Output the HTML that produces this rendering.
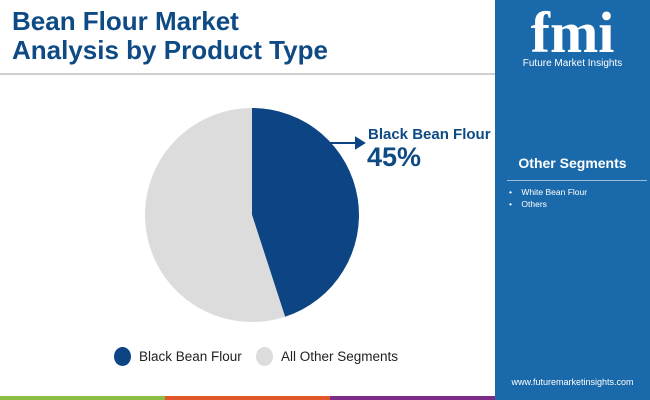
<!DOCTYPE html>
<html><head><meta charset="utf-8"><style>
body{margin:0;width:650px;height:400px;position:relative;overflow:hidden;background:#fff;font-family:"Liberation Sans",sans-serif}
.abs{position:absolute}
</style></head><body>
<div class="abs" style="left:12px;top:7px;font-size:26px;font-weight:bold;color:#0e4a84;line-height:29px">Bean Flour Market<br>Analysis by Product Type</div>
<div class="abs" style="left:0;top:73px;width:495px;height:2px;background:#d0d0d0"></div>
<div class="abs" style="left:495px;top:0;width:155px;height:400px;background:#1a6aab">
  <div class="abs" style="left:0;top:4px;width:155px;text-align:center;color:#fff;font-size:58px;font-weight:bold;line-height:58px;font-family:'Liberation Serif',serif">fmi</div>
  <div class="abs" style="left:0;top:58px;width:155px;text-align:center;color:#fff;font-size:10px">Future Market Insights</div>
  <div class="abs" style="left:0;top:155px;width:155px;text-align:center;color:#fff;font-size:14px;font-weight:bold">Other Segments</div>
  <div class="abs" style="left:12px;top:180px;width:140px;height:1px;background:#9bbcdc"></div>
  <div class="abs" style="left:14px;top:186px;color:#fff;font-size:8.5px;line-height:12px">•&nbsp;&nbsp;&nbsp;&nbsp;White Bean Flour<br>•&nbsp;&nbsp;&nbsp;&nbsp;Others</div>
  <div class="abs" style="left:0;top:377px;width:155px;text-align:center;color:#fff;font-size:9px">www.futuremarketinsights.com</div>
</div>
<div class="abs" style="left:0;top:396px;width:165px;height:4px;background:#8bbd45"></div>
<div class="abs" style="left:165px;top:396px;width:165px;height:4px;background:#e0582a"></div>
<div class="abs" style="left:330px;top:396px;width:165px;height:4px;background:#7b2d87"></div>
<svg class="abs" style="left:0;top:0" width="495" height="395" id="pie"></svg>
<div class="abs" style="left:368px;top:126px;color:#0e4a84;font-weight:bold;font-size:15px">Black Bean Flour</div>
<div class="abs" style="left:367px;top:142px;color:#0e4a84;font-weight:bold;font-size:27px">45%</div>
<div class="abs" style="left:114px;top:347px;font-size:13.5px;color:#222;display:flex;align-items:center"><span style="display:inline-block;width:17px;height:19px;border-radius:50%;background:#0d4584;margin-right:8px"></span>Black Bean Flour</div>
<div class="abs" style="left:256px;top:347px;font-size:13.5px;color:#222;display:flex;align-items:center"><span style="display:inline-block;width:17px;height:19px;border-radius:50%;background:#dcdcdc;margin-right:8px"></span>All Other Segments</div>
<script>
const categories=["Black Bean Flour","All Other Segments"];
const values=[45,55];
const colors=["#0d4584","#dcdcdc"];
const svg=document.getElementById('pie');
const NS="http://www.w3.org/2000/svg";
const cx=252,cy=215,r=107;
const total=values.reduce((a,b)=>a+b,0);
let a0=0;
values.forEach((v,i)=>{
  const a1=a0+v/total*2*Math.PI;
  const x0=cx+r*Math.sin(a0),y0=cy-r*Math.cos(a0),x1=cx+r*Math.sin(a1),y1=cy-r*Math.cos(a1);
  const p=document.createElementNS(NS,'path');
  p.setAttribute('d',`M${cx},${cy}L${x0},${y0}A${r},${r} 0 ${a1-a0>Math.PI?1:0} 1 ${x1},${y1}Z`);
  p.setAttribute('fill',colors[i]);
  
  
  svg.appendChild(p);
  a0=a1;
});
const ln=document.createElementNS(NS,'path');
ln.setAttribute('d','M330,143L362,143M356,138L364,143L356,148Z');
ln.setAttribute('stroke','#0d4584');ln.setAttribute('stroke-width','2');ln.setAttribute('fill','#0d4584');


svg.appendChild(ln);
</script>
</body></html>
